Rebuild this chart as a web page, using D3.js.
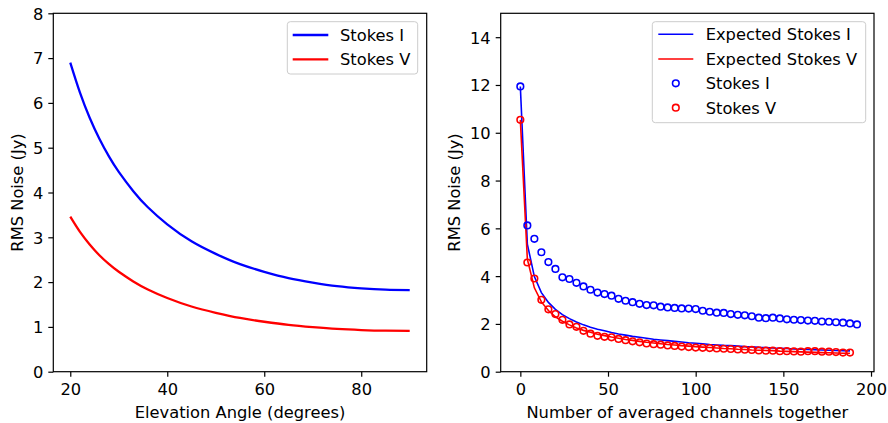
<!DOCTYPE html>
<html><head><meta charset="utf-8">
<script src="https://cdn.jsdelivr.net/npm/d3@7/dist/d3.min.js"></script>
<style>
html,body{margin:0;padding:0;background:#fff;}
svg text{font-family:"DejaVu Sans",sans-serif;fill:#000;}
</style></head>
<body><svg id="c" width="888" height="423"></svg>
<script>
// ---- Left panel data (RMS noise vs elevation) ----
const elevation = [20,22,24,26,28,30,33,36,40,45,50,55,60,65,70,75,80,85,90];
const stokesIElev = [6.90,6.23,5.67,5.20,4.80,4.46,4.03,3.67,3.29,2.91,2.63,2.40,2.23,2.09,1.99,1.91,1.86,1.83,1.82];
const stokesVElev = [3.46,3.12,2.84,2.60,2.40,2.23,2.015,1.835,1.645,1.455,1.315,1.20,1.115,1.045,0.995,0.955,0.93,0.915,0.91];
const leftXTicks = [20,40,60,80];
const leftYTicks = [0,1,2,3,4,5,6,7,8];

// ---- Right panel data (RMS noise vs averaged channels) ----
const channelsExpected = d3.range(0,189,4);
const expectedI = [11.94,5.34,3.98,3.31,2.90,2.61,2.39,2.22,2.08,1.96,1.86,1.78,1.71,1.64,1.58,1.53,1.48,1.44,1.40,1.36,1.33,1.30,1.27,1.24,1.21,1.19,1.17,1.14,1.12,1.10,1.09,1.07,1.05,1.04,1.02,1.01,0.99,0.98,0.97,0.95,0.94,0.93,0.92,0.91,0.90,0.89,0.88,0.87];
const expectedV = [10.54,4.71,3.51,2.92,2.56,2.30,2.11,1.96,1.83,1.73,1.65,1.57,1.51,1.45,1.40,1.35,1.31,1.27,1.23,1.20,1.17,1.14,1.12,1.09,1.07,1.05,1.03,1.01,0.99,0.97,0.96,0.94,0.93,0.91,0.90,0.89,0.88,0.86,0.85,0.84,0.83,0.82,0.81,0.80,0.79,0.78,0.77,0.77];
const channelsI = d3.range(0,193,4);
const measuredI = [11.94,6.12,5.56,5.00,4.59,4.30,3.95,3.88,3.72,3.57,3.43,3.31,3.25,3.18,3.05,2.97,2.91,2.84,2.79,2.78,2.72,2.69,2.67,2.65,2.64,2.62,2.55,2.51,2.47,2.46,2.41,2.38,2.36,2.32,2.26,2.24,2.26,2.23,2.19,2.175,2.16,2.14,2.13,2.10,2.09,2.07,2.05,2.02,1.98];
const channelsV = d3.range(0,189,4);
const measuredV = [10.54,4.57,3.90,3.01,2.61,2.41,2.17,1.98,1.88,1.71,1.59,1.50,1.46,1.44,1.37,1.32,1.27,1.23,1.18,1.15,1.13,1.10,1.08,1.05,1.03,1.01,1.00,0.99,0.97,0.96,0.95,0.93,0.92,0.91,0.89,0.88,0.88,0.86,0.86,0.85,0.84,0.86,0.86,0.84,0.84,0.82,0.80,0.80];
const rightXTicks = [0,50,100,150,200];
const rightYTicks = [0,2,4,6,8,10,12,14];

const BLUE = "#0000ff", RED = "#ff0000";
const svg = d3.select("#c");
const FS = 16.3;

function panel(cfg){
  const g = svg.append("g");
  const x = d3.scaleLinear().domain(cfg.xd).range([cfg.l, cfg.r]);
  const y = d3.scaleLinear().domain(cfg.yd).range([cfg.b, cfg.t]);
  const xa = g.append("g").attr("transform",`translate(0,${cfg.b})`)
    .call(d3.axisBottom(x).tickValues(cfg.xt).tickSize(5).tickPadding(5).tickFormat(d3.format("d")));
  const ya = g.append("g").attr("transform",`translate(${cfg.l},0)`)
    .call(d3.axisLeft(y).tickValues(cfg.yt).tickSize(5).tickPadding(5).tickFormat(d3.format("d")));
  [xa,ya].forEach(a=>{
    a.select(".domain").remove();
    a.selectAll(".tick line").attr("stroke","#000").attr("stroke-width",1.2);
    a.selectAll(".tick text").style("font-size",FS+"px").attr("fill","#000");
  });
  xa.selectAll(".tick text").attr("dy","0.8em");
  ya.selectAll(".tick text").attr("dy","0.36em");
  const clipId = "clip"+cfg.id;
  g.append("clipPath").attr("id",clipId).append("rect")
    .attr("x",cfg.l).attr("y",cfg.t).attr("width",cfg.r-cfg.l).attr("height",cfg.b-cfg.t);
  const plot = g.append("g").attr("clip-path",`url(#${clipId})`);
  cfg.draw(plot,x,y);
  g.append("rect").attr("x",cfg.l).attr("y",cfg.t).attr("width",cfg.r-cfg.l).attr("height",cfg.b-cfg.t)
    .attr("fill","none").attr("stroke","#000").attr("stroke-width",1.2);
  g.append("text").attr("x",(cfg.l+cfg.r)/2).attr("y",418).attr("text-anchor","middle")
    .style("font-size",FS+"px").text(cfg.xlabel);
  g.append("text").attr("transform",`translate(${cfg.yl},${(cfg.t+cfg.b)/2}) rotate(-90)`)
    .attr("text-anchor","middle").attr("dy","0.35em").style("font-size",FS+"px").text(cfg.ylabel);
  return g;
}

function legend(g, x0, y0, w, h, items){
  const lg = g.append("g");
  lg.append("rect").attr("x",x0).attr("y",y0).attr("width",w).attr("height",h).attr("rx",3)
    .attr("fill","#fff").attr("fill-opacity",0.8).attr("stroke","#cccccc").attr("stroke-width",1);
  items.forEach((it,i)=>{
    const yy = it.y;
    if(it.type==="line"){
      lg.append("line").attr("x1",it.hx1).attr("x2",it.hx2).attr("y1",yy).attr("y2",yy)
        .attr("stroke",it.color).attr("stroke-width",it.sw);
    } else {
      lg.append("circle").attr("cx",(it.hx1+it.hx2)/2).attr("cy",yy).attr("r",3.3)
        .attr("fill","none").attr("stroke",it.color).attr("stroke-width",1.6);
    }
    lg.append("text").attr("x",it.tx).attr("y",yy).attr("dy","0.36em").style("font-size",FS+"px").text(it.label);
  });
}

// Left panel
const gl = panel({id:"L", l:53.3, r:426.7, t:13.3, b:371.7, xd:[16.5,93.5], yd:[0,8],
  xt:leftXTicks, yt:leftYTicks, xlabel:"Elevation Angle (degrees)", ylabel:"RMS Noise (Jy)", yl:17,
  draw:(p,x,y)=>{
    const line = d3.line().x(d=>x(d[0])).y(d=>y(d[1])).curve(d3.curveNatural);
    p.append("path").datum(elevation.map((e,i)=>[e,stokesIElev[i]])).attr("d",line)
      .attr("fill","none").attr("stroke",BLUE).attr("stroke-width",2.3);
    p.append("path").datum(elevation.map((e,i)=>[e,stokesVElev[i]])).attr("d",line)
      .attr("fill","none").attr("stroke",RED).attr("stroke-width",2.3);
  }});
legend(gl, 287.3, 21.7, 130.4, 52.3, [
  {type:"line",color:BLUE,sw:2.3,hx1:292.7,hx2:328.3,tx:340,y:35,label:"Stokes I"},
  {type:"line",color:RED,sw:2.3,hx1:292.7,hx2:328.3,tx:340,y:59.3,label:"Stokes V"}
]);

// Right panel
const gr = panel({id:"R", l:500.7, r:874, t:13.3, b:371.7, xd:[-11.2,201.7], yd:[0,15],
  xt:rightXTicks, yt:rightYTicks, xlabel:"Number of averaged channels together", ylabel:"RMS Noise (Jy)", yl:454,
  draw:(p,x,y)=>{
    const line = d3.line().x(d=>x(d[0])).y(d=>y(d[1]));
    p.append("path").datum(channelsExpected.map((c,i)=>[c,expectedI[i]])).attr("d",line)
      .attr("fill","none").attr("stroke",BLUE).attr("stroke-width",1.6);
    p.append("path").datum(channelsExpected.map((c,i)=>[c,expectedV[i]])).attr("d",line)
      .attr("fill","none").attr("stroke",RED).attr("stroke-width",1.6);
    p.append("g").selectAll("circle").data(channelsI.map((c,i)=>[c,measuredI[i]])).join("circle")
      .attr("cx",d=>x(d[0])).attr("cy",d=>y(d[1])).attr("r",3.3)
      .attr("fill","none").attr("stroke",BLUE).attr("stroke-width",1.6);
    p.append("g").selectAll("circle").data(channelsV.map((c,i)=>[c,measuredV[i]])).join("circle")
      .attr("cx",d=>x(d[0])).attr("cy",d=>y(d[1])).attr("r",3.3)
      .attr("fill","none").attr("stroke",RED).attr("stroke-width",1.6);
  }});
legend(gr, 652.3, 21.7, 213.4, 101, [
  {type:"line",color:BLUE,sw:1.6,hx1:658.3,hx2:693.3,tx:705.7,y:34.3,label:"Expected Stokes I"},
  {type:"line",color:RED,sw:1.6,hx1:658.3,hx2:693.3,tx:705.7,y:59,label:"Expected Stokes V"},
  {type:"circle",color:BLUE,hx1:658.3,hx2:693.3,tx:705.7,y:83.3,label:"Stokes I"},
  {type:"circle",color:RED,hx1:658.3,hx2:693.3,tx:705.7,y:107.7,label:"Stokes V"}
]);
</script></body></html>
